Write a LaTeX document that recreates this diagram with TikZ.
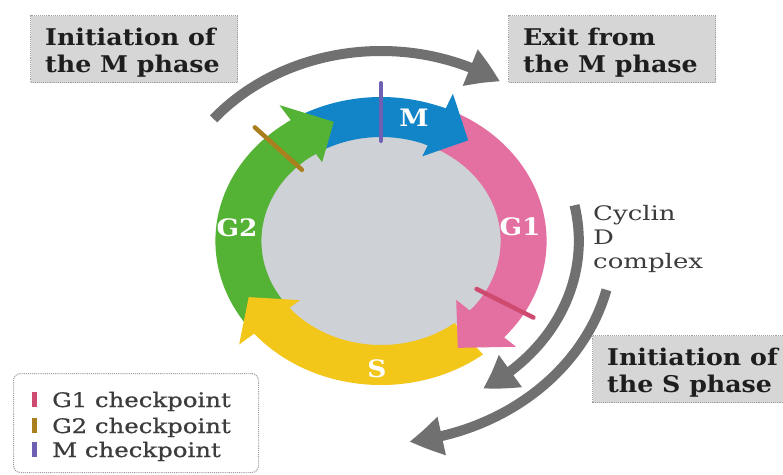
\documentclass[tikz,border=0pt]{standalone}
\usepackage{fontspec}
\setmainfont{DejaVu Serif}[FakeStretch=1.1]
\newfontfamily\legfont{DejaVu Serif}[FakeStretch=1.22,FakeBold=0.7]
\newfontfamily\cyfont{DejaVu Serif}[FakeStretch=1.3]
\usetikzlibrary{arrows.meta,bending}
\definecolor{ringgreen}{RGB}{84,178,52}
\definecolor{ringblue}{RGB}{18,132,200}
\definecolor{ringpink}{RGB}{228,112,162}
\definecolor{ringyellow}{RGB}{243,198,26}
\definecolor{discgrey}{RGB}{206,209,213}
\definecolor{arrowgrey}{RGB}{112,112,112}
\definecolor{boxfill}{RGB}{214,214,214}
\definecolor{boxedge}{RGB}{160,160,160}
\definecolor{cpGone}{RGB}{206,74,110}
\definecolor{cpGtwo}{RGB}{170,128,30}
\definecolor{cpM}{RGB}{112,96,180}
\definecolor{txtdark}{RGB}{30,30,30}
\definecolor{txtgrey}{RGB}{60,60,60}
\begin{document}
\begin{tikzpicture}[x=1pt,y=1pt,
  infobox/.style={draw=boxedge, densely dotted, line width=1.1pt, fill=boxfill, inner sep=0pt, anchor=north west},
  infotext/.style={anchor=base west, inner sep=0pt, text=txtdark, font=\bfseries\fontsize{23}{27}\selectfont},
  phaselbl/.style={inner sep=0pt, text=white, font=\bfseries\fontsize{24}{24}\selectfont},
  legtext/.style={anchor=base west, inner sep=0pt, text=txtgrey, font=\legfont\fontsize{20}{20}\selectfont},
  legbar/.style={inner sep=0pt, minimum width=5pt, minimum height=15pt, draw=none},
  bigarrow/.style={draw=arrowgrey, line width=10pt, -{Triangle[length=33pt,width=37pt,bend]}},
  cpline/.style={line width=4.5pt, line cap=round}
]
\useasboundingbox (0,0) rectangle (783,-474);
\fill[white] (0,0) rectangle (783,-474);

% ---------- cell cycle ring ----------
\begin{scope}[shift={(381,-241)}, xscale=1.15]
  \fill[discgrey] (0,0) circle[radius=106];
  % bodies
  \fill[ringgreen] (215:144) arc[start angle=215,end angle=123,radius=144] -- (123:104) arc[start angle=123,end angle=215,radius=104] -- cycle;
  \fill[ringblue] (118:144) arc[start angle=118,end angle=67,radius=144] -- (67:104) arc[start angle=67,end angle=118,radius=104] -- cycle;
  \fill[ringpink] (62:144) arc[start angle=62,end angle=-42,radius=144] -- (-42:104) arc[start angle=-42,end angle=62,radius=104] -- cycle;
  \fill[ringyellow] (-52:144) arc[start angle=-52,end angle=-140,radius=144] -- (-140:104) arc[start angle=-140,end angle=-52,radius=104] -- cycle;
  % heads
  \fill[ringgreen] (125:104) -- (125:144) -- (123:144) -- (123:162) -- (109:126) -- (123:94) -- (123:104) -- cycle;
  \fill[ringblue] (69:104) -- (69:144) -- (67:144) -- (67:160) -- (53:126) -- (67:92) -- (67:104) -- cycle;
  \fill[ringpink] (-40:104) -- (-40:144) -- (-42:144) -- (-42:158) -- (-58:126) -- (-42:88) -- (-42:104) -- cycle;
  \fill[ringyellow] (-138:104) -- (-138:144) -- (-140:144) -- (-140:161) -- (-154:128) -- (-140:92) -- (-140:104) -- cycle;
  % checkpoints
  \draw[cpline, cpM, line width=4pt] (90:100) -- (90:158);
  \draw[cpline, cpGtwo] (134:99) -- (134:158);
  \draw[cpline, cpGone] (-30:96) -- (-30:153);
  % big grey arrows
  \coordinate (topstart) at (140:190);
  \coordinate (instart) at (12:172);
  \coordinate (outstart) at (-14:202);
  \draw[bigarrow] (topstart) arc[start angle=140,end angle=57,radius=190];
  \draw[bigarrow] (instart) arc[start angle=12,end angle=-59,radius=172];
  \draw[bigarrow] (outstart) arc[start angle=-14,end angle=-83,radius=202];
\end{scope}

% phase labels
\node[phaselbl] (lM) at (414,-118) {M};
\node[phaselbl] (lGtwo) at (237,-228) {G2};
\node[phaselbl] (lGone) at (520,-227) {G1};
\node[phaselbl] (lS) at (377,-369) {S};

% info boxes
\node[infobox, minimum width=207pt, minimum height=67pt] (boxMi) at (30,-15) {};
\node[infotext] (txtMi) at (45,-45) {\begin{tabular}[t]{@{}l@{}}Initiation of\\the M phase\end{tabular}};
\node[infobox, minimum width=207pt, minimum height=67pt] (boxMe) at (508,-15) {};
\node[infotext] (txtMe) at (523,-45) {\begin{tabular}[t]{@{}l@{}}Exit from\\the M phase\end{tabular}};
\node[infobox, minimum width=195pt, minimum height=67pt] (boxS) at (592,-335) {};
\node[infotext] (txtS) at (607,-365) {\begin{tabular}[t]{@{}l@{}}Initiation of\\the S phase\end{tabular}};

% cyclin label
\node[anchor=base west, inner sep=0pt, text=txtgrey, font=\cyfont\fontsize{20}{24}\selectfont] (cyc) at (593,-220) {\begin{tabular}[t]{@{}l@{}}Cyclin\\D\\complex\end{tabular}};

% legend
\node[draw=boxedge, densely dotted, line width=1.1pt, fill=white, rounded corners=7pt, anchor=north west, minimum width=245pt, minimum height=99pt, inner sep=0pt] (legend) at (13,-373) {};
\node[legbar, fill=cpGone] (barGone) at (34.5,-399.5) {};
\node[legbar, fill=cpGtwo] (barGtwo) at (34.5,-425.5) {};
\node[legbar, fill=cpM] (barM) at (34.5,-449.5) {};
\node[legtext] (legGone) at (52,-407) {G1 checkpoint};
\node[legtext] (legGtwo) at (52,-433) {G2 checkpoint};
\node[legtext] (legM) at (52,-457) {M checkpoint};
\end{tikzpicture}
\end{document}
